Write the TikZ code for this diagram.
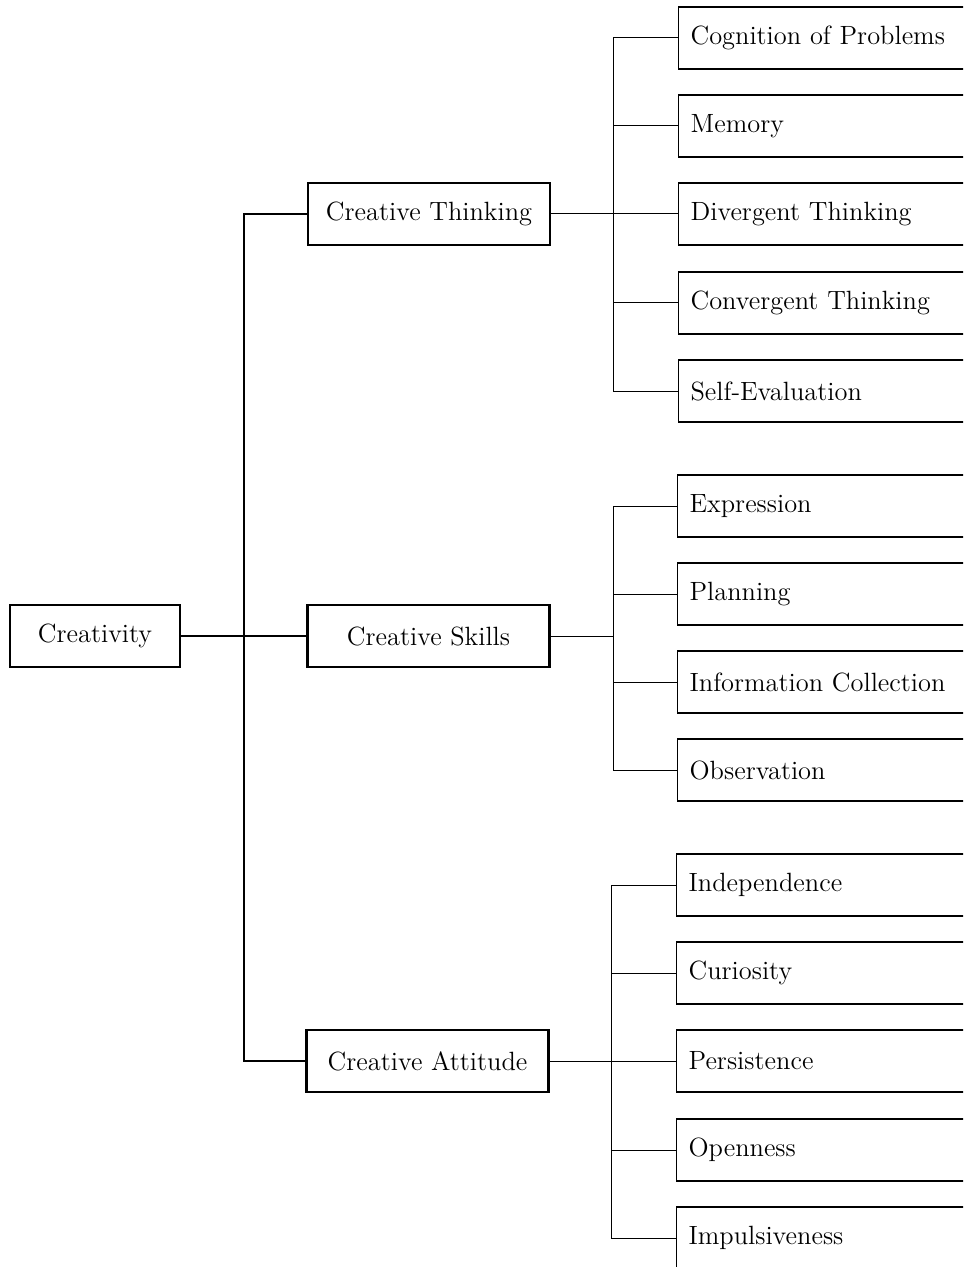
\documentclass[tikz,border=0pt]{standalone}
\usepackage{fontspec}
\begin{document}
\begin{tikzpicture}[x=0.5pt,y=-0.5pt,
  every node/.style={font=\fontsize{13.2}{15}\selectfont},
  root/.style={draw, line width=1.4pt, minimum width=85pt, minimum height=31pt, inner sep=0pt},
  mid/.style={draw, line width=1.3pt, minimum width=121pt, minimum height=31pt, inner sep=0pt},
  leaf/.style={draw, line width=0.6pt, minimum height=31pt, text width=170pt, inner xsep=6pt, inner ysep=0pt, align=left, anchor=west},
  trunk/.style={line width=1.3pt},
  twig/.style={line width=0.5pt}]
\useasboundingbox (0,0) rectangle (963,1267);
\clip (0,0) rectangle (963,1267);
\node[root] (cr) at (95,636) {Creativity};
\node[mid] (ct) at (429,214) {Creative Thinking};
\node[mid] (cs) at (428.5,636) {Creative Skills};
\node[mid] (ca) at (427.5,1061) {Creative Attitude};
% thinking leaves
\node[leaf] (cog) at (678,38) {Cognition of Problems};
\node[leaf] (mem) at (678,126) {Memory};
\node[leaf] (div) at (678,214) {Divergent Thinking};
\node[leaf] (con) at (678,303) {Convergent Thinking};
\node[leaf] (sev) at (678,391) {Self-Evaluation};
% skills leaves
\node[leaf] (exp) at (677,506) {Expression};
\node[leaf] (pla) at (677,594) {Planning};
\node[leaf] (inf) at (677,682) {Information Collection};
\node[leaf] (obs) at (677,770) {Observation};
% attitude leaves
\node[leaf] (ind) at (676,885) {Independence};
\node[leaf] (cur) at (676,973) {Curiosity};
\node[leaf] (per) at (676,1061) {Persistence};
\node[leaf] (ope) at (676,1150) {Openness};
\node[leaf] (imp) at (676,1238) {Impulsiveness};
% junctions
\coordinate (j0) at (244,636);
\coordinate (jt) at (613,214);
\coordinate (js) at (613,636);
\coordinate (ja) at (611,1061);
% trunk
\draw[trunk] (cr.east) -- (j0) -- (cs.west);
\draw[trunk] (ct.west) -| (j0) |- (ca.west);
% thinking
\draw[twig] (ct.east) -- (jt);
\draw[twig] (cog.west) -| (jt) |- (sev.west);
\draw[twig] (mem.west) -- (mem.west -| jt);
\draw[twig] (jt) -- (div.west);
\draw[twig] (con.west) -- (con.west -| jt);
% skills
\draw[twig] (cs.east) -- (js);
\draw[twig] (exp.west) -| (js) |- (obs.west);
\draw[twig] (pla.west) -- (pla.west -| js);
\draw[twig] (inf.west) -- (inf.west -| js);
% attitude
\draw[twig] (ca.east) -- (ja);
\draw[twig] (ind.west) -| (ja) |- (imp.west);
\draw[twig] (cur.west) -- (cur.west -| ja);
\draw[twig] (ja) -- (per.west);
\draw[twig] (ope.west) -- (ope.west -| ja);
\end{tikzpicture}
\end{document}
